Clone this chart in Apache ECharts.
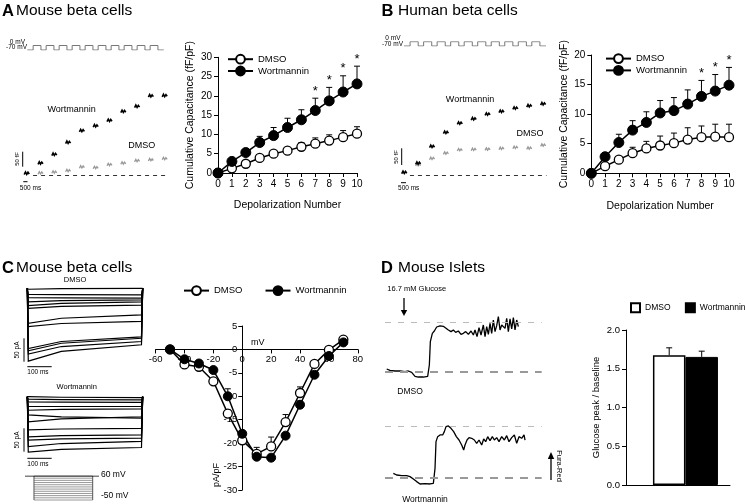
<!DOCTYPE html>
<html><head><meta charset="utf-8">
<script src="https://cdn.jsdelivr.net/npm/echarts@6/dist/echarts.min.js"></script>
<style>html,body{margin:0;padding:0;background:#fff}#c{width:745px;height:504px}</style>
</head><body><div id="c"></div><script>
// ================= DATA =================
const depolNumbers = [0,1,2,3,4,5,6,7,8,9,10];
// Panel A (mouse) cumulative capacitance, fF/pF
const mouseDmso    = [0,1.2,2.4,3.9,5.0,5.8,6.8,7.6,8.4,9.3,10.2];
const mouseDmsoErr = [0,0.3,0.4,0.5,0.6,0.7,1.1,1.5,1.5,1.7,1.8];
const mouseWort    = [0,3.0,5.3,7.9,9.7,11.8,13.8,16.2,18.7,21.0,23.1];
const mouseWortErr = [0,0.5,0.8,1.6,2.1,2.4,2.6,3.2,3.5,4.2,4.6];
const mouseSig = [7,8,9,10];
// Panel B (human)
const humanDmso    = [0,1.2,2.3,3.4,4.2,4.7,5.1,5.7,6.1,6.2,6.1];
const humanDmsoErr = [0,0.3,0.5,1.0,1.2,1.6,1.7,2.0,1.9,2.1,2.2];
const humanWort    = [0,2.8,5.2,7.3,8.6,10.2,10.6,11.7,13.0,13.9,14.9];
const humanWortErr = [0,0.5,1.4,1.6,1.8,2.1,2.2,2.4,2.7,2.8,3.0];
const humanSig = [8,9,10];
// Panel C IV curve (mV, pA/pF)
const ivVoltages = [-50,-40,-30,-20,-10,0,10,20,30,40,50,60,70];
const ivDmso     = [0,-3.2,-3.7,-6.8,-13.7,-19.4,-22.3,-20.7,-15.5,-9.3,-3.1,-0.1,2.1];
const ivDmsoErr  = [0,0.3,0.3,0.5,0.8,0.6,1.4,2.0,1.6,1.3,0.6,0.3,0.3];
const ivWort     = [0,-2.1,-3.0,-4.4,-10.0,-18.0,-22.9,-23.1,-18.4,-11.8,-5.4,-1.4,1.5];
const ivWortErr  = [0,0.3,0.3,0.4,1.6,0.6,0.5,0.5,0.6,0.8,0.5,0.4,0.3];
// Panel D bars
const barGroups = ['DMSO','Wortmannin'];
const barValues = [1.675, 1.653];
const barErr    = [0.095, 0.074];
// Example traces: capacitance after each depolarization (fF)
const capMouseWort = [5,39,68,108,147,163,181,211,228,263,264];
const capMouseDmso = [5,6,9,14,26,24,34,39,47,50,54];
const capHumanWort = [7,35,85,127,155,168,182,190,200,207,213];
const capHumanDmso = [7,30,49,65,75,76,77,79,82,80,89];
// Pulse protocol (ms, mV)
const holdMV = -70, pulseMV = 0, pulseCount = 10, pulseStartMs = 450, pulseMs = 600, pulsePeriodMs = 1000, trainEndMs = 10500;
// Panel C current families (pA at start / end of step)
const curDmsoStart = [-2,-13,-20,-29,-37,-43,-75,-82,-129,-134,-141,-156];
const curDmsoEnd   = [0,-14,-21,-25,-29,-36,-57,-71,-104,-107,-114,-121];
const curWortStart = [0,-5,-11,-21,-29,-39,-54,-71,-86,-93,-107,-119];
const curWortEnd   = [-2,-7,-12,-21,-26,-46,-43,-68,-82,-89,-96,-109];
const stepVoltages = [60,50,40,30,20,10,0,-10,-20,-30,-40,-50];
const stepOnMs = 37, stepOffMs = 279, stepEndMs = 305, holdDrawnMV = 60;
// Panel D calcium traces (time s, normalised Fura-Red)
const caDmsoTime = [0,10,25,40,55,65,75,85,95,110,123,128,131,137,143,150,160,170,177,185,193,200,207,215,223,230,237,245,253,260,265,271,277,283,290,295,300,305,310,315,320,325,330,335,340,345,350,355,360,365,370,375,380,385,390,395];
const caDmso = [0.054,0.027,0.014,0.014,0,0.014,-0.014,-0.095,-0.108,-0.108,-0.095,0.135,0.608,0.777,0.824,0.905,0.926,0.919,0.885,0.845,0.811,0.845,0.797,0.824,0.757,0.777,0.811,0.757,0.824,0.743,0.845,0.709,0.892,0.743,0.946,0.709,0.912,0.757,0.980,0.777,1.047,0.811,0.932,1.115,0.845,0.946,0.980,0.878,1.081,0.811,1.068,0.865,1.095,0.845,1.047,0.912];
const caWortTime = [20,30,45,60,70,80,90,100,115,130,140,145,148,153,160,168,173,178,185,193,201,209,217,225,231,235,241,247,255,263,270,277,285,291,297,303,310,317,323,330,337,345,353,360,367,375,383,390,397,405,412,415];
const caWort = [0.078,0.045,0.032,0.032,0.013,-0.032,-0.084,-0.130,-0.123,-0.130,-0.117,0.175,0.695,0.792,0.825,0.825,0.890,0.987,1.0,0.955,0.890,0.792,0.727,0.630,0.532,0.630,0.727,0.773,0.760,0.727,0.662,0.727,0.630,0.747,0.695,0.792,0.714,0.792,0.727,0.773,0.695,0.792,0.727,0.812,0.695,0.773,0.825,0.662,0.792,0.760,0.825,0.727];

// ================= HELPERS =================
const FONT = '"Liberation Sans", Arial, sans-serif';
const pairs = (xs, ys) => xs.map((x,i)=>[x, ys[i]]);
const triples = (xs, ys, es) => xs.map((x,i)=>[x, ys[i], es[i]]);

function pulseTrain(){
  const pts = [[0, holdMV]];
  for (let k=0;k<pulseCount;k++){
    const t0 = pulseStartMs + k*pulsePeriodMs, t1 = t0 + pulseMs;
    pts.push([t0, holdMV],[t0, pulseMV],[t1, pulseMV],[t1, holdMV]);
  }
  pts.push([trainEndMs, holdMV]);
  return pts;
}

function valAxis(o){
  return Object.assign({type:'value',
    axisLine:{show:true,onZero:false,lineStyle:{color:'#000',width:1}},
    axisTick:{show:true,length:4,lineStyle:{color:'#000',width:1}},
    axisLabel:{color:'#000',fontSize:10,fontFamily:FONT,margin:6},
    splitLine:{show:false},
    nameTextStyle:{color:'#000',fontSize:10.5,fontFamily:FONT}}, o);
}
function hidAxis(g, min, max){ return {type:'value', gridIndex:g, min, max, show:false, splitLine:{show:false}}; }

function errRender(params, api){
  const x=api.value(0), y=api.value(1), e=api.value(2);
  if (!e) return null;
  const a=api.coord([x,y]), b=api.coord([x,y+e]);
  return {type:'group', children:[
    {type:'line', shape:{x1:a[0],y1:a[1],x2:b[0],y2:b[1]}, style:{stroke:'#000',lineWidth:1}},
    {type:'line', shape:{x1:b[0]-3,y1:b[1],x2:b[0]+3,y2:b[1]}, style:{stroke:'#000',lineWidth:1}}
  ]};
}
function starRender(params, api){
  const p = api.coord([api.value(0), api.value(1)]);
  return {type:'text', x:p[0], y:p[1]-7, style:{text:'*', font:'13px '+FONT, fill:'#000',
    textAlign:'center', textVerticalAlign:'middle', align:'center', verticalAlign:'middle'}};
}
function segRender(color, lw){
  return function(params, api){
    const k=api.value(0), v=api.value(1);
    const a=api.coord([k-0.18, v]), b=api.coord([k+0.18, v]);
    const w=b[0]-a[0];
    const pts=[[a[0],a[1]+1],[a[0]+w*0.25,a[1]-1.5],[a[0]+w*0.5,a[1]+0.8],[a[0]+w*0.75,a[1]-1.2],[b[0],b[1]+0.5]];
    return {type:'polyline', shape:{points:pts}, style:{stroke:color,lineWidth:lw,fill:null}};
  };
}
function currentRender(params, api){
  const s=api.value(1), e=api.value(2);
  const pts=[[0,0],[4,s],[140,s+(e-s)*0.6],[470,e],[475,0]].map(p=>api.coord(p));
  return {type:'polyline', shape:{points:pts}, style:{stroke:'#000',lineWidth:1.2,fill:null}};
}
function stepRender(params, api){
  const v=api.value(1);
  const a=api.coord([stepOnMs,v]), b=api.coord([stepOffMs,v]);
  const kids=[{type:'line', shape:{x1:a[0],y1:a[1],x2:b[0],y2:b[1]}, style:{stroke:'#999',lineWidth:1}}];
  if (params.dataIndex === stepVoltages.length-1){
    const h1=api.coord([stepOnMs,holdDrawnMV]), h2=api.coord([stepOffMs,holdDrawnMV]);
    kids.push({type:'line', shape:{x1:h1[0],y1:h1[1],x2:a[0],y2:a[1]}, style:{stroke:'#555',lineWidth:1}});
    kids.push({type:'line', shape:{x1:h2[0],y1:h2[1],x2:b[0],y2:b[1]}, style:{stroke:'#555',lineWidth:1}});
  }
  return {type:'group', children:kids};
}

function lineSeries(name, xi, data, filled, size){
  return {type:'line', name, xAxisIndex:xi, yAxisIndex:xi, data, symbol:'circle', symbolSize:size||9,
    z:3, lineStyle:{color:'#000',width:1.5},
    itemStyle:filled?{color:'#000',borderColor:'#000',borderWidth:1}:{color:'#fff',borderColor:'#000',borderWidth:1.3}};
}
function errSeries(xi, data){ return {type:'custom', xAxisIndex:xi, yAxisIndex:xi, data, renderItem:errRender, z:1, silent:true}; }

function txt(text, x, y, size, opts){
  opts = opts||{};
  return {type:'text', x, y, rotation:opts.rot||0, silent:true,
    style:{text, font:(opts.bold?'bold ':'')+size+'px '+FONT, fill:opts.color||'#000',
      textAlign:opts.align||'center', textVerticalAlign:'middle', align:opts.align||'center', verticalAlign:'middle'}};
}
function ln(x1,y1,x2,y2,w){ return {type:'line', silent:true, shape:{x1,y1,x2,y2}, style:{stroke:'#000',lineWidth:w||1}}; }
function tri(points){ return {type:'polygon', silent:true, shape:{points}, style:{fill:'#000'}}; }

// IV grid geometry (axes cross at 0 mV / 0 pA/pF)
const ivGrid = {left:155.6, top:326, width:202.2, height:164};
const ivXMin=-60, ivXMax=80, ivYMin=-30, ivYMax=5;
const ivYAxisOffset = -(0-ivXMin)/(ivXMax-ivXMin)*ivGrid.width;
const ivXAxisOffset = -(0-ivYMin)/(ivYMax-ivYMin)*ivGrid.height;

// ================= OPTION =================
const chart = echarts.init(document.getElementById('c'), null, {renderer:'canvas'});
const option = {
  animation:false,
  textStyle:{fontFamily:FONT},
  grid:[
    {left:218, top:57.3, width:139, height:115.7},
    {left:591.3, top:55, width:137.7, height:118.3},
    ivGrid,
    {left:626, top:330, width:104, height:155},
    {left:27.3, top:45.5, width:136.5, height:4.5},
    {left:21.2, top:91, width:149, height:90},
    {left:404, top:41.7, width:142, height:4.3},
    {left:398.7, top:91.7, width:150, height:90},
    {left:27.3, top:288.3, width:115.4, height:77},
    {left:27.3, top:396.7, width:115.4, height:58.3},
    {left:25, top:476, width:74, height:24},
    {left:385, top:307.5, width:156.7, height:79},
    {left:385, top:410.6, width:156.7, height:82.1}
  ],
  xAxis:[
    valAxis({gridIndex:0, min:0, max:10, interval:1, name:'Depolarization Number', nameLocation:'middle', nameGap:27}),
    valAxis({gridIndex:1, min:0, max:10, interval:1, name:'Depolarization Number', nameLocation:'middle', nameGap:27}),
    valAxis({gridIndex:2, min:ivXMin, max:ivXMax, interval:20, position:'bottom', offset:ivXAxisOffset,
      axisLabel:{color:'#000',fontSize:9.5,fontFamily:FONT,margin:5}}),
    valAxis({gridIndex:3, min:-1.329, max:1.871, axisTick:{show:false}, axisLabel:{show:false}}),
    hidAxis(4, 0, trainEndMs),
    hidAxis(5, -0.4, 10.4),
    hidAxis(6, 0, trainEndMs),
    hidAxis(7, -0.4, 10.4),
    hidAxis(8, 0, 475),
    hidAxis(9, 0, 475),
    hidAxis(10, 0, stepEndMs),
    hidAxis(11, -5, 465),
    hidAxis(12, -5, 465)
  ],
  yAxis:[
    valAxis({gridIndex:0, min:0, max:30, interval:5, name:'Cumulative Capacitance (fF/pF)', nameLocation:'middle', nameGap:22}),
    valAxis({gridIndex:1, min:0, max:20, interval:5, name:'Cumulative Capacitance (fF/pF)', nameLocation:'middle', nameGap:22}),
    valAxis({gridIndex:2, min:ivYMin, max:ivYMax, interval:5, position:'left', offset:ivYAxisOffset,
      axisLabel:{color:'#000',fontSize:9.5,fontFamily:FONT,margin:5}}),
    valAxis({gridIndex:3, min:0, max:2, interval:0.5, name:'Glucose peak / baseline', nameLocation:'middle', nameGap:25,
      nameTextStyle:{color:'#000',fontSize:9.5,fontFamily:FONT},
      axisLabel:{color:'#000',fontSize:9.5,fontFamily:FONT,margin:6, formatter:v=>v.toFixed(1)}}),
    hidAxis(4, holdMV, pulseMV),
    hidAxis(5, -20, 280),
    hidAxis(6, holdMV, pulseMV),
    hidAxis(7, -20, 250),
    hidAxis(8, -165, 0),
    hidAxis(9, -125, 0),
    hidAxis(10, -50, 60),
    hidAxis(11, -0.3, 1.3),
    hidAxis(12, -0.3, 1.3)
  ],
  legend:[
    {data:['DMSO','Wortmannin'], orient:'vertical', left:227, top:53.8, padding:0, itemWidth:25, itemHeight:11, itemGap:1,
      textStyle:{color:'#000',fontSize:9.5,fontFamily:FONT}, selectedMode:false},
    {data:['DMSO','Wortmannin'], orient:'vertical', left:605, top:53.2, padding:0, itemWidth:25, itemHeight:11, itemGap:1,
      textStyle:{color:'#000',fontSize:9.5,fontFamily:FONT}, selectedMode:false},
    {data:['DMSO','Wortmannin'], orient:'horizontal', left:183, top:285.2, padding:0, itemWidth:25, itemHeight:11, itemGap:22,
      textStyle:{color:'#000',fontSize:9.5,fontFamily:FONT}, selectedMode:false},
    {data:['DMSO ','Wortmannin '], orient:'horizontal', left:630, top:302.2, width:140, padding:0, itemWidth:9, itemHeight:9, itemGap:12, icon:'rect',
      textStyle:{color:'#000',fontSize:8.5,fontFamily:FONT}, selectedMode:false}
  ],
  graphic:[
    txt('A', 2, 11, 16.5, {bold:true, align:'left'}),
    txt('Mouse beta cells', 16, 11, 15.5, {align:'left'}),
    txt('B', 381.5, 11, 16.5, {bold:true, align:'left'}),
    txt('Human beta cells', 398, 11, 15.5, {align:'left'}),
    txt('C', 2, 268, 16.5, {bold:true, align:'left'}),
    txt('Mouse beta cells', 16, 268, 15.5, {align:'left'}),
    txt('D', 381, 268, 16.5, {bold:true, align:'left'}),
    txt('Mouse Islets', 398, 268, 15.5, {align:'left'}),
    // A traces annotations
    txt('0 mV', 25, 42, 6.5, {align:'right'}),
    txt('-70 mV', 27, 47.5, 6.5, {align:'right'}),
    txt('Wortmannin', 71.7, 110, 9),
    txt('DMSO', 141.7, 145.7, 9),
    ln(22.7,151.7,22.7,166.7),
    txt('50 fF', 17.5, 159, 6, {rot:Math.PI/2}),
    ln(23.3,181.7,27.5,181.7),
    txt('500 ms', 30.5, 188, 6.5),
    // B traces annotations
    txt('0 mV', 400.5, 38.5, 6.5, {align:'right'}),
    txt('-70 mV', 403, 44, 6.5, {align:'right'}),
    txt('Wortmannin', 470, 100, 9),
    txt('DMSO', 530, 134, 9),
    ln(401.7,148.3,401.7,165),
    txt('50 fF', 396, 157, 6, {rot:Math.PI/2}),
    ln(401,182.7,406,182.7),
    txt('500 ms', 408.7, 188, 6.5),
    // C traces annotations
    txt('DMSO', 75, 280, 7.5),
    txt('Wortmannin', 76.7, 386.7, 7.5),
    ln(24,338.3,24,361.7),
    txt('50 pA', 17, 350, 6.5, {rot:Math.PI/2}),
    ln(27.3,366.7,51.7,366.7),
    txt('100 ms', 27.3, 372, 6.5, {align:'left'}),
    ln(24,428.3,24,451.7),
    txt('50 pA', 17, 440, 6.5, {rot:Math.PI/2}),
    ln(27.3,458.3,51.7,458.3),
    txt('100 ms', 27.3, 464, 6.5, {align:'left'}),
    txt('60 mV', 101, 475, 8.5, {align:'left'}),
    txt('-50 mV', 101, 495.5, 8.5, {align:'left'}),
    // IV annotations
    txt('mV', 251, 342.7, 9, {align:'left'}),
    txt('pA/pF', 217, 475, 9, {rot:Math.PI/2}),
    // D traces annotations
    txt('16.7 mM Glucose', 416.7, 289.3, 7.5),
    ln(404,298,404,311,1.3),
    tri([[400.8,310],[407.2,310],[404,316]]),
    txt('DMSO', 410, 391.7, 8.5),
    txt('Wortmannin', 425, 499.5, 8.5),
    ln(551,480,551,458,1.3),
    tri([[547.8,459],[554.2,459],[551,452]]),
    txt('Fura-Red', 559, 466, 7.5, {rot:-Math.PI/2})
  ],
  series:[
    // ---- A ----
    errSeries(0, triples(depolNumbers, mouseDmso, mouseDmsoErr)),
    errSeries(0, triples(depolNumbers, mouseWort, mouseWortErr)),
    lineSeries('DMSO', 0, pairs(depolNumbers, mouseDmso), false),
    lineSeries('Wortmannin', 0, pairs(depolNumbers, mouseWort), true, 10),
    {type:'custom', xAxisIndex:0, yAxisIndex:0, renderItem:starRender, silent:true,
      data:mouseSig.map(k=>[k, mouseWort[k]+mouseWortErr[k]])},
    // ---- B ----
    errSeries(1, triples(depolNumbers, humanDmso, humanDmsoErr)),
    errSeries(1, triples(depolNumbers, humanWort, humanWortErr)),
    lineSeries('DMSO', 1, pairs(depolNumbers, humanDmso), false),
    lineSeries('Wortmannin', 1, pairs(depolNumbers, humanWort), true, 10),
    {type:'custom', xAxisIndex:1, yAxisIndex:1, renderItem:starRender, silent:true,
      data:humanSig.map(k=>[k, humanWort[k]+humanWortErr[k]])},
    // ---- C IV ----
    errSeries(2, triples(ivVoltages, ivDmso, ivDmsoErr)),
    errSeries(2, triples(ivVoltages, ivWort, ivWortErr)),
    lineSeries('DMSO', 2, pairs(ivVoltages, ivDmso), false),
    lineSeries('Wortmannin', 2, pairs(ivVoltages, ivWort), true),
    // ---- D bars ----
    {type:'bar', name:'DMSO ', xAxisIndex:3, yAxisIndex:3, barWidth:32.5, barGap:'-100%',
      data:[[0, barValues[0]]], itemStyle:{color:'#fff', borderColor:'#000', borderWidth:1.5}},
    {type:'bar', name:'Wortmannin ', xAxisIndex:3, yAxisIndex:3, barWidth:32.5, barGap:'-100%',
      data:[[1, barValues[1]]], itemStyle:{color:'#000', borderColor:'#000', borderWidth:1}},
    {type:'custom', xAxisIndex:3, yAxisIndex:3, renderItem:errRender, z:3, silent:true,
      data:barGroups.map((g,i)=>[i, barValues[i], barErr[i]])},
    // ---- A traces ----
    {type:'line', xAxisIndex:4, yAxisIndex:4, data:pulseTrain(), symbol:'none', lineStyle:{color:'#777',width:1}, silent:true},
    {type:'custom', xAxisIndex:5, yAxisIndex:5, renderItem:segRender('#999',1.3), silent:true,
      data:pairs(depolNumbers, capMouseDmso),
      markLine:{silent:true, symbol:'none', label:{show:false}, lineStyle:{color:'#333',type:[4,4],width:1},
        data:[[{coord:[0.46,0]},{coord:[10.25,0]}]]}},
    {type:'custom', xAxisIndex:5, yAxisIndex:5, renderItem:segRender('#000',1.6), silent:true,
      data:pairs(depolNumbers, capMouseWort)},
    // ---- B traces ----
    {type:'line', xAxisIndex:6, yAxisIndex:6, data:pulseTrain(), symbol:'none', lineStyle:{color:'#777',width:1}, silent:true},
    {type:'custom', xAxisIndex:7, yAxisIndex:7, renderItem:segRender('#999',1.3), silent:true,
      data:pairs(depolNumbers, capHumanDmso),
      markLine:{silent:true, symbol:'none', label:{show:false}, lineStyle:{color:'#333',type:[4,4],width:1},
        data:[[{coord:[0.41,0]},{coord:[10.24,0]}]]}},
    {type:'custom', xAxisIndex:7, yAxisIndex:7, renderItem:segRender('#000',1.6), silent:true,
      data:pairs(depolNumbers, capHumanWort)},
    // ---- C current families ----
    {type:'custom', xAxisIndex:8, yAxisIndex:8, renderItem:currentRender, silent:true,
      data:curDmsoStart.map((s,i)=>[i, s, curDmsoEnd[i]])},
    {type:'custom', xAxisIndex:9, yAxisIndex:9, renderItem:currentRender, silent:true,
      data:curWortStart.map((s,i)=>[i, s, curWortEnd[i]])},
    {type:'custom', xAxisIndex:10, yAxisIndex:10, renderItem:stepRender, silent:true,
      data:stepVoltages.map(v=>[stepOnMs, v])},
    {type:'line', xAxisIndex:10, yAxisIndex:10, symbol:'none', silent:true, lineStyle:{color:'#000',width:1},
      data:[[0, holdDrawnMV],[stepEndMs, holdDrawnMV]]},
    // ---- D calcium traces ----
    {type:'line', xAxisIndex:11, yAxisIndex:11, symbol:'none', silent:true, lineStyle:{color:'#000',width:1.3},
      data:pairs(caDmsoTime, caDmso),
      markLine:{silent:true, symbol:'none', label:{show:false},
        data:[{yAxis:1, lineStyle:{color:'#bbb',type:[6,7],width:1}},{yAxis:0, lineStyle:{color:'#999',type:[8,7],width:2}}]}},
    {type:'line', xAxisIndex:12, yAxisIndex:12, symbol:'none', silent:true, lineStyle:{color:'#000',width:1.3},
      data:pairs(caWortTime, caWort),
      markLine:{silent:true, symbol:'none', label:{show:false},
        data:[{yAxis:1, lineStyle:{color:'#bbb',type:[6,7],width:1}},{yAxis:0, lineStyle:{color:'#999',type:[8,7],width:2}}]}}
  ]
};
chart.setOption(option);
</script></body></html>
